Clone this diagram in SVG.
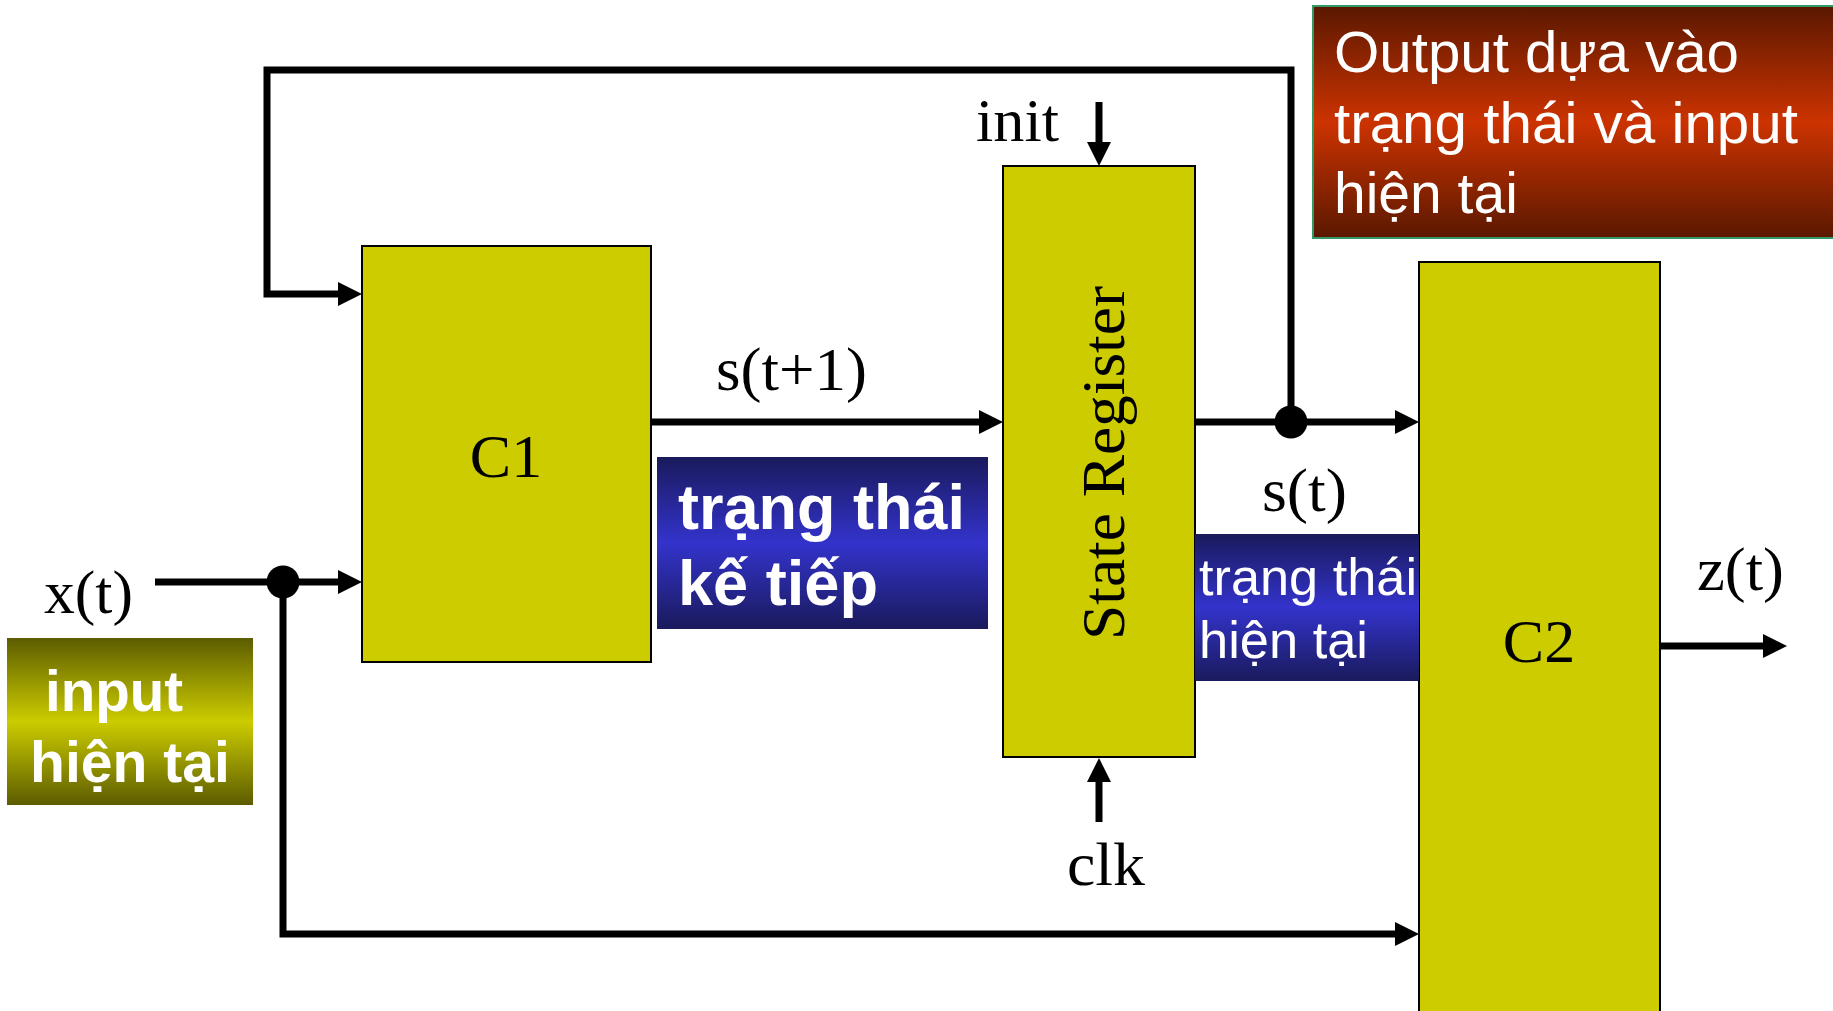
<svg xmlns="http://www.w3.org/2000/svg" width="1833" height="1011" viewBox="0 0 1833 1011">
  <defs>
    <linearGradient id="gBlue" x1="0" y1="0" x2="0" y2="1">
      <stop offset="0" stop-color="#1a1a5c"/>
      <stop offset="0.5" stop-color="#3333cc"/>
      <stop offset="1" stop-color="#1a1a5c"/>
    </linearGradient>
    <linearGradient id="gOlive" x1="0" y1="0" x2="0" y2="1">
      <stop offset="0" stop-color="#5c5c00"/>
      <stop offset="0.5" stop-color="#cccc00"/>
      <stop offset="1" stop-color="#5c5c00"/>
    </linearGradient>
    <linearGradient id="gRed" x1="0" y1="0" x2="0" y2="1">
      <stop offset="0" stop-color="#5a1800"/>
      <stop offset="0.5" stop-color="#cc3300"/>
      <stop offset="1" stop-color="#5a1800"/>
    </linearGradient>
    <marker id="arrow" markerUnits="userSpaceOnUse" markerWidth="24" markerHeight="24" viewBox="0 0 24 24" refX="12" refY="12" orient="auto">
      <path d="M0,0 L24,12 L0,24 z" fill="#000"/>
    </marker>
  </defs>
  <style>
    .block { fill: #cccc00; stroke: #000; stroke-width: 2; }
    .wire { fill: none; stroke: #000; stroke-width: 7; stroke-linejoin: miter; }
    .arr { marker-end: url(#arrow); }
    .dot { fill: #000; }
    .serif { font-family: "Liberation Serif", "Times New Roman", serif; font-size: 62px; fill: #000; }
    .note { font-family: "Liberation Sans", Arial, sans-serif; fill: #fff; }
  </style>

  <rect width="1833" height="1011" fill="#fff"/>

  <!-- wires -->
  <g id="connectors">
    <polyline class="wire arr" points="1291,422 1291,70 267,70 267,294 350,294"/>
    <line class="wire arr" x1="651" y1="422" x2="991" y2="422"/>
    <line class="wire arr" x1="1195" y1="422" x2="1407" y2="422"/>
    <line class="wire arr" x1="155" y1="582" x2="350" y2="582"/>
    <polyline class="wire arr" points="283,582 283,934 1407,934"/>
    <line class="wire arr" x1="1099" y1="102" x2="1099" y2="154"/>
    <line class="wire arr" x1="1099" y1="822" x2="1099" y2="770"/>
    <line class="wire arr" x1="1660" y1="646" x2="1775" y2="646"/>
    <circle class="dot" cx="1291" cy="422" r="16.5"/>
    <circle class="dot" cx="283" cy="582" r="16.5"/>
  </g>

  <!-- combinational block C1 -->
  <g id="c1">
    <rect class="block" x="362" y="246" width="289" height="416"/>
    <text class="serif" x="506" y="477" text-anchor="middle">C1</text>
  </g>

  <!-- state register -->
  <g id="state-register">
    <rect class="block" x="1003" y="166" width="192" height="591"/>
    <text class="serif" transform="translate(1124,463) rotate(-90)" text-anchor="middle" textLength="354" lengthAdjust="spacingAndGlyphs">State Register</text>
  </g>

  <!-- combinational block C2 -->
  <g id="c2">
    <rect class="block" x="1419" y="262" width="241" height="760"/>
    <text class="serif" x="1539" y="662" text-anchor="middle">C2</text>
  </g>

  <!-- signal labels -->
  <g id="labels">
    <text class="serif" x="44" y="613" textLength="89" lengthAdjust="spacingAndGlyphs">x(t)</text>
    <text class="serif" x="716" y="390" textLength="151" lengthAdjust="spacingAndGlyphs">s(t+1)</text>
    <text class="serif" x="976" y="141" textLength="83" lengthAdjust="spacingAndGlyphs">init</text>
    <text class="serif" x="1067" y="885" textLength="78" lengthAdjust="spacingAndGlyphs">clk</text>
    <text class="serif" x="1262" y="511" textLength="85" lengthAdjust="spacingAndGlyphs">s(t)</text>
    <text class="serif" x="1697" y="590" textLength="87" lengthAdjust="spacingAndGlyphs">z(t)</text>
  </g>

  <!-- annotation: next state -->
  <g id="note-next-state">
    <rect x="657" y="457" width="331" height="172" fill="url(#gBlue)"/>
    <text class="note" font-weight="bold" font-size="63" x="678" y="529" textLength="287" lengthAdjust="spacingAndGlyphs">trạng thái</text>
    <text class="note" font-weight="bold" font-size="63" x="678" y="605" textLength="200" lengthAdjust="spacingAndGlyphs">kế tiếp</text>
  </g>

  <!-- annotation: current state -->
  <g id="note-current-state">
    <rect x="1195" y="534" width="224" height="147" fill="url(#gBlue)"/>
    <text class="note" font-size="52" x="1199" y="595" textLength="218" lengthAdjust="spacingAndGlyphs">trạng thái</text>
    <text class="note" font-size="52" x="1199" y="658" textLength="169" lengthAdjust="spacingAndGlyphs">hiện tại</text>
  </g>

  <!-- annotation: current input -->
  <g id="note-input">
    <rect x="7" y="638" width="246" height="167" fill="url(#gOlive)"/>
    <text class="note" font-weight="bold" font-size="57" x="45" y="711" textLength="138" lengthAdjust="spacingAndGlyphs">input</text>
    <text class="note" font-weight="bold" font-size="57" x="30" y="782" textLength="200" lengthAdjust="spacingAndGlyphs">hiện tại</text>
  </g>

  <!-- annotation: output -->
  <g id="note-output">
    <rect x="1313" y="6" width="522" height="232" fill="url(#gRed)" stroke="#339966" stroke-width="2"/>
    <text class="note" font-size="57" x="1334" y="72" textLength="405" lengthAdjust="spacingAndGlyphs">Output dựa vào</text>
    <text class="note" font-size="57" x="1334" y="143" textLength="464" lengthAdjust="spacingAndGlyphs">trạng thái và input</text>
    <text class="note" font-size="57" x="1334" y="213">hiện tại</text>
  </g>
</svg>
